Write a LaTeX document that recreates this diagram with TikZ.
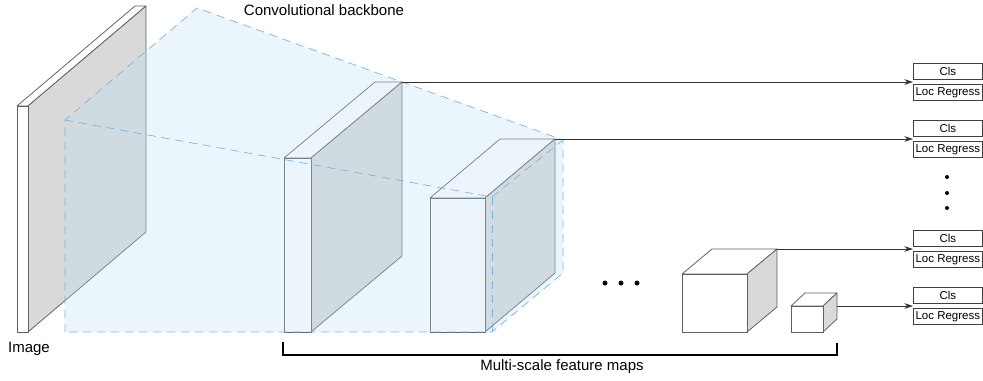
\documentclass[tikz,border=0pt]{standalone}
\usepackage{fontspec}
\setmainfont{Liberation Sans}
\usetikzlibrary{positioning,arrows.meta,calc}
\definecolor{slabgrey}{RGB}{217,217,217}
\definecolor{edgegrey}{RGB}{95,95,95}
\definecolor{hullblue}{RGB}{190,225,245}
\definecolor{dashblue}{RGB}{125,180,220}
\begin{document}
\begin{tikzpicture}[x=0.03cm,y=-0.03cm,
    face/.style={draw=edgegrey,line width=0.65pt,line join=round},
    hull/.style={draw=dashblue,line width=0.6pt,dash pattern=on 0.25cm off 0.17cm},
    feed/.style={draw=black!80,line width=0.75pt,-{Stealth[length=0.26cm,width=0.17cm]}},
    headbox/.style={draw=black!75,line width=0.55pt,minimum width=2.07cm,minimum height=0.48cm,inner sep=0pt,font=\fontsize{9.8}{10}\selectfont},
    caption/.style={font=\fontsize{12.8}{15}\selectfont,anchor=base}]
    \useasboundingbox (0,0) rectangle (983,380);
    % input image
    \draw[face,fill=white] (17,106) -- (28,106) -- (146,6) -- (135,6) -- cycle;
    \draw[face,fill=slabgrey] (28,106) -- (146,6) -- (146,232) -- (28,332) -- cycle;
    \draw[face,fill=white] (17,106) rectangle (28,332);
    % feature maps
    \foreach \xl/\xr/\yt/\dx/\dy/\nm in {284/311/158/91/-76/b1,430/485/198/70/-59/b2,682/747/274/30/-25/b3,791/823/306/14/-13/b4}{
        \coordinate (\nm-tr) at (\xr+\dx,\yt+\dy);
        \coordinate (\nm-br) at (\xr+\dx,332+\dy);
        \draw[face,fill=white] (\xl,\yt) -- (\xr,\yt) -- (\nm-tr) -- (\xl+\dx,\yt+\dy) -- cycle;
        \draw[face,fill=slabgrey] (\xr,\yt) -- (\nm-tr) -- (\nm-br) -- (\xr,332) -- cycle;
        \draw[face,fill=white] (\xl,\yt) rectangle (\xr,332);
    }
    \coordinate (b4-mr) at ($(b4-tr)!0.5!(b4-br)$);
    % backbone hull
    \coordinate (H1) at (65,120);
    \coordinate (H2) at (197,8);
    \coordinate (H3) at (563,140);
    \coordinate (H4) at (563,273);
    \coordinate (H5) at (492,332);
    \coordinate (H6) at (65,332);
    \coordinate (H7) at (492,197);
    \fill[hullblue,opacity=0.3] (H1) -- (H2) -- (H3) -- (H4) -- (H5) -- (H6) -- cycle;
    \draw[hull] (H6) -- (H1) -- (H2) -- (H3) -- (H4) -- (H5) -- cycle;
    \draw[hull] (H1) -- (H7) -- (H3);
    \draw[hull] (H7) -- (H5);
    % heads
    \coordinate (headx) at (913,0);
    \foreach \src [count=\i] in {b1-tr,b2-tr,b3-tr,b4-mr}{
        \coordinate (in\i) at (\src -| headx);
        \node[headbox,anchor=south west] (cls\i) at ([yshift=0.06cm]in\i) {Cls};
        \node[headbox,below=0.12cm of cls\i] (loc\i) {Loc Regress};
        \draw[feed] (\src) -- (in\i);
    }
    \foreach \y in {177,193,208}
        \fill (947,\y) circle (2);
    \foreach \x in {605,621,637}
        \fill (\x,283) circle (2.5);
    % labels
    \node[caption] (backbone) at (324,15) {Convolutional backbone};
    \node[caption] (imagelabel) at (29,352) {Image};
    \draw[line width=1.2pt] (283,342) -- (283,355) -- (837,355) -- (837,343);
    \node[caption] (scales) at (562,370) {Multi-scale feature maps};
\end{tikzpicture}
\end{document}
